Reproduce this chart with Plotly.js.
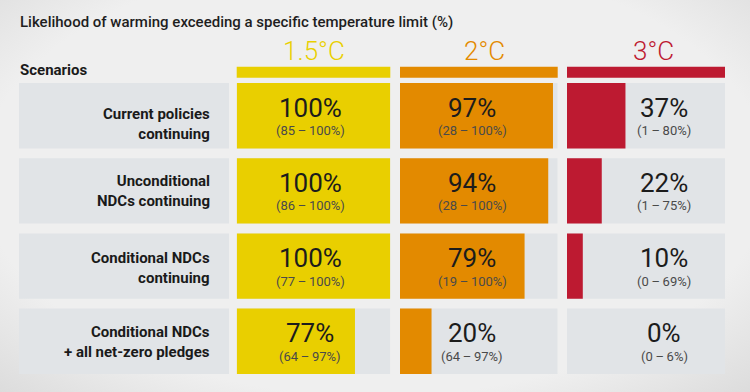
<!DOCTYPE html>
<html>
<head>
<meta charset="utf-8">
<script src="https://cdn.plot.ly/plotly-3.0.1.min.js"></script>
<style>
  html, body { margin: 0; padding: 0; }
  body {
    width: 750px; height: 392px; overflow: hidden;
    background: radial-gradient(ellipse 75% 80% at 50% 45%, #efefef 70%, #d9d9d9 100%);
  }
  #chart { width: 750px; height: 392px; }
</style>
</head>
<body>
<div id="chart"></div>
<script>
// ---- data ----
const scenarios = [
  "Current policies<br>continuing",
  "Unconditional<br>NDCs continuing",
  "Conditional NDCs<br>continuing",
  "Conditional NDCs<br>+ all net-zero pledges"
];
const limits = ["1.5°C", "2°C", "3°C"];
const likely15 = [100, 100, 100, 77];
const low15    = [85, 86, 77, 64];
const high15   = [100, 100, 100, 97];
const likely2  = [97, 94, 79, 20];
const low2     = [28, 28, 19, 64];
const high2    = [100, 100, 100, 97];
const likely3  = [37, 22, 10, 0];
const low3     = [1, 1, 0, 0];
const high3    = [80, 75, 69, 6];

// ---- styling / layout ----
const W = 750, H = 392;
const colors = ["#e9cf00", "#e38a00", "#bd1a31"];
const panelGray = "#e1e4e7";
const font = "Roboto, 'Open Sans', sans-serif";
const series = [
  {v: likely15, lo: low15, hi: high15},
  {v: likely2,  lo: low2,  hi: high2},
  {v: likely3,  lo: low3,  hi: high3}
];
const colPx = [[236.7, 390.3], [400, 557.7], [567, 725]];
const textPx = [310, 472, 664];
const headPx = [313.5, 484, 653.5];
const labelShift = [-8, 0, -2, -1];
const rowIdx = scenarios.map((_, i) => i);
const bw = 0.87;

const traces = [];
const axNames = ["x", "x2", "x3"];
series.forEach((s, c) => {
  // full-scale background panel
  traces.push({
    type: "bar", orientation: "h",
    x: s.v.map(() => 100), y: rowIdx, width: bw,
    xaxis: axNames[c], yaxis: "y",
    marker: {color: panelGray, line: {width: 0}},
    hoverinfo: "skip", showlegend: false
  });
  traces.push({
    type: "bar", orientation: "h",
    x: s.v, y: rowIdx, width: bw,
    xaxis: axNames[c], yaxis: "y",
    marker: {color: colors[c], line: {width: 0}},
    hovertemplate: limits[c] + ": %{x}%<extra></extra>",
    showlegend: false
  });
});

const ydom = [1 - 378.9 / H, 1 - 78.1 / H];
const layout = {
  width: W, height: H,
  margin: {l: 0, r: 0, t: 0, b: 0},
  paper_bgcolor: "rgba(0,0,0,0)",
  plot_bgcolor: "rgba(0,0,0,0)",
  barmode: "overlay",
  font: {family: font},
  yaxis: {domain: ydom, range: [3.5, -0.5], visible: false, fixedrange: true},
  shapes: [],
  annotations: []
};
colPx.forEach((p, c) => {
  const key = c === 0 ? "xaxis" : "xaxis" + (c + 1);
  layout[key] = {domain: [p[0] / W, p[1] / W], range: [0, 100], visible: false,
                 anchor: "y", fixedrange: true};
  // header bar
  layout.shapes.push({
    type: "rect", xref: axNames[c] + " domain", yref: "paper",
    x0: 0, x1: 1, y0: 1 - 77.7 / H, y1: 1 - 66.7 / H,
    fillcolor: colors[c], line: {width: 0}, layer: "below"
  });
  // header text
  layout.annotations.push({
    xref: "paper", yref: "paper", x: headPx[c] / W, y: 1 - 50.5 / H,
    xanchor: "center", yanchor: "middle", showarrow: false,
    text: limits[c], font: {family: font, size: 26, color: colors[c], weight: 300}
  });
  // cell texts
  series[c].v.forEach((v, i) => {
    layout.annotations.push({
      xref: "paper", yref: "y", x: textPx[c] / W, y: i, yshift: 8,
      xanchor: "center", yanchor: "middle", showarrow: false,
      text: v + "%", font: {family: font, size: 26, color: "#1c1c1c", weight: 400}
    });
    layout.annotations.push({
      xref: "paper", yref: "y", x: textPx[c] / W, y: i, yshift: -15,
      xanchor: "center", yanchor: "middle", showarrow: false,
      text: "(" + series[c].lo[i] + "\u2009\u2013\u2009" + series[c].hi[i] + "%)",
      font: {family: font, size: 13, color: "#4a4a4a", weight: 400}
    });
  });
});
// scenario label panels + labels
scenarios.forEach((s, i) => {
  layout.shapes.push({
    type: "rect", xref: "paper", yref: "y",
    x0: 19 / W, x1: 229 / W, y0: i - bw / 2, y1: i + bw / 2,
    fillcolor: panelGray, line: {width: 0}, layer: "below"
  });
  layout.annotations.push({
    xref: "paper", yref: "y", x: 212 / W, y: i, yshift: labelShift[i],
    xanchor: "right", yanchor: "middle", align: "right", showarrow: false,
    text: "<b>" + s + "</b>", font: {family: font, size: 15, color: "#1a1a1a"}
  });
});
// title and "Scenarios"
layout.annotations.push({
  xref: "paper", yref: "paper", x: 18 / W, y: 1 - 22 / H,
  xanchor: "left", yanchor: "middle", showarrow: false,
  text: "Likelihood of warming exceeding a specific temperature limit (%)",
  font: {family: font, size: 15, color: "#1e1e1e", weight: 500}
});
layout.annotations.push({
  xref: "paper", yref: "paper", x: 18 / W, y: 1 - 70 / H,
  xanchor: "left", yanchor: "middle", showarrow: false,
  text: "<b>Scenarios</b>",
  font: {family: font, size: 15, color: "#1a1a1a"}
});

Plotly.newPlot("chart", traces, layout, {displayModeBar: false, staticPlot: true});
</script>
</body>
</html>
